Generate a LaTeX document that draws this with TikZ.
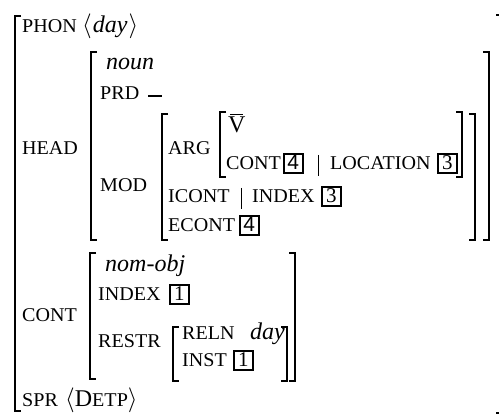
\documentclass[tikz,border=0pt]{standalone}
\usepackage{fontspec}
\setmainfont{Liberation Serif}
\newfontfamily\labfont[FakeStretch=1.03]{Liberation Serif}
\newfontfamily\tagsans{Liberation Sans}
\newcommand\lab[1]{{\labfont\fontsize{19.5}{21}\selectfont #1}}
\tikzset{
  txt/.style={anchor=base west, inner sep=0pt, font=\fontsize{24}{26}\selectfont},
  tagbox/.style={anchor=base west, draw, line width=1.6pt, inner sep=0pt,
    minimum width=19pt, text height=16pt, text depth=3pt,
    font=\fontsize{21}{22}\selectfont},
  brk/.style={line width=2pt},
  sepbar/.style={line width=0.9pt}
}
\newcommand\LB[3]{\draw[brk] (#1+6,#2) -- (#1,#2) -- (#1,#3) -- (#1+6,#3);}
\newcommand\RB[3]{\draw[brk] (#1-6,#2) -- (#1,#2) -- (#1,#3) -- (#1-6,#3);}
\begin{document}
\begin{tikzpicture}[x=1pt,y=-1pt]
\useasboundingbox (0,0) rectangle (499,414);
% brackets
\LB{15}{16}{411}
\RB{502}{15}{413}
\LB{91}{52}{240}
\RB{489}{52}{240}
\LB{162}{114}{240}
\RB{475}{114}{240}
\LB{220}{112}{177}
\RB{462}{112}{177}
\LB{90}{253}{379}
\RB{295}{253}{381}
\LB{173}{327}{381}
\RB{287}{327}{381}
% top level
\node[txt] (phon) at (22,33) {\lab{PHON}};
\node[txt] (phonv) at (82,33) {$\langle$\kern1pt\textit{day}\kern1pt$\rangle$};
\node[txt] (head) at (22,155) {\lab{HEAD}};
\node[txt] (cont) at (22,322) {\lab{CONT}};
\node[txt] (spr) at (22,407) {\lab{SPR}};
\node[txt] (sprv) at (65,407) {$\langle$D\lab{ETP}$\rangle$};
% head
\node[txt] (noun) at (106,70) {\textit{noun}};
\node[txt] (prd) at (100,100) {\lab{PRD}};
\draw[line width=1.6pt] (148,96) -- (162,96);
\node[txt] (mod) at (100,192) {\lab{MOD}};
\node[txt] (arg) at (168,155) {\lab{ARG}};
\node[txt] (vbar) at (228,133) {V};
\draw[line width=0.9pt] (230,114) -- (243,114);
\node[txt] (acont) at (226,170) {\lab{CONT}};
\node[tagbox] (t4a) at (283,170) {\tagsans 4};
\draw[sepbar] (318,155) -- (318,176);
\node[txt] (loc) at (330,170) {\lab{LOCATION}};
\node[tagbox] (t3a) at (437,170) {3};
\node[txt] (icont) at (168,203) {\lab{ICONT}};
\draw[sepbar] (241,188) -- (241,209);
\node[txt] (index2) at (252,203) {\lab{INDEX}};
\node[tagbox] (t3b) at (321,203) {3};
\node[txt] (econt) at (168,232) {\lab{ECONT}};
\node[tagbox] (t4b) at (239,232) {\tagsans 4};
% cont
\node[txt] (nomobj) at (105,272) {\textit{nom-obj}};
\node[txt] (index) at (98,301) {\lab{INDEX}};
\node[tagbox] (t1a) at (169,301) {1};
\node[txt] (restr) at (98,348) {\lab{RESTR}};
\node[txt] (reln) at (182,340) {\lab{RELN}};
\node[txt] (day) at (250,340) {\textit{day}};
\node[txt] (inst) at (182,367) {\lab{INST}};
\node[tagbox] (t1b) at (233,367) {1};
\end{tikzpicture}
\end{document}
